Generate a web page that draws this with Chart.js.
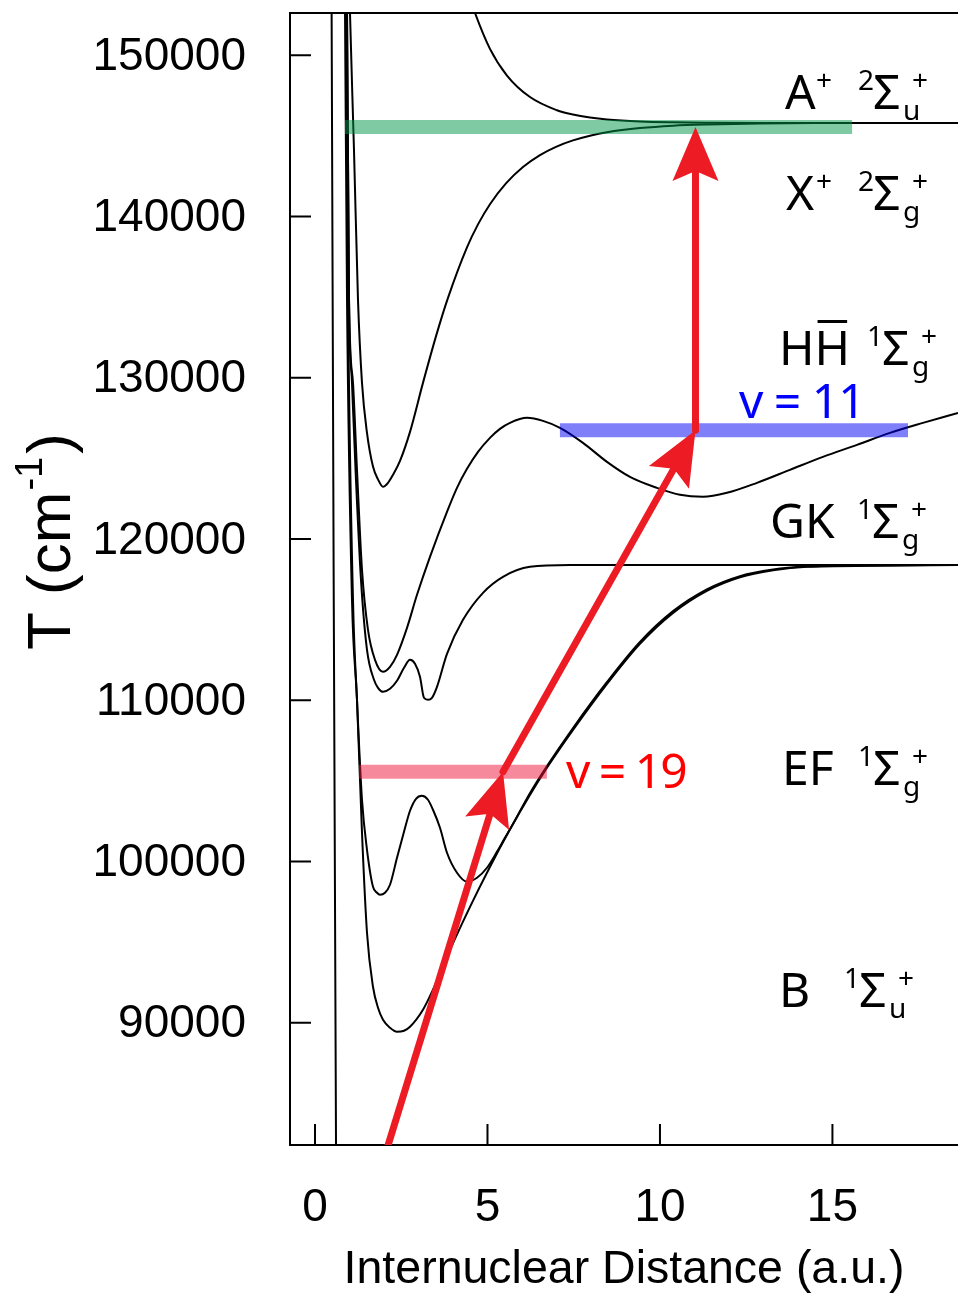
<!DOCTYPE html>
<html>
<head>
<meta charset="utf-8">
<title>H2 potential curves</title>
<script src="https://cdn.jsdelivr.net/npm/chart.js@4.4.1/dist/chart.umd.min.js"></script>
<style>
  body { margin: 0; background: #fff; }
  canvas { display: block; }
</style>
</head>
<body>
<canvas id="plots" width="958" height="1296"></canvas>
<script>
// R in a.u., T in cm-1
var groundR = [0.48, 0.54, 0.61];
var groundT = [153500, 118000, 82000];

var aPlusR = [4.35, 4.493, 4.638, 5.072, 5.565, 6.232, 7.014, 7.478, 7.971, 8.464, 9.420, 10.377, 11.362, 12.9, 18.64];
var aPlusT = [154700, 153550, 152623, 150397, 148741, 147408, 146590, 146320, 146134, 146013, 145891, 145840, 145818, 145805, 145800];

var xPlusR = [0.97, 1.014, 1.130, 1.246, 1.362, 1.507, 1.681, 1.826, 1.971, 2.116, 2.261, 2.464, 2.754, 3.130, 3.536, 3.855, 4.406, 4.725, 5.072, 5.536, 6.029, 6.522, 6.986, 7.478, 7.971, 8.464, 9.420, 10.377, 11.362, 12.9, 14.5, 18.64];
var xPlusT = [157000, 152623, 144129, 134829, 129683, 126583, 124490, 123700, 123235, 123483, 123979, 124847, 126646, 129683, 132783, 134953, 138084, 139510, 140762, 142052, 143068, 143806, 144321, 144718, 145009, 145226, 145486, 145635, 145710, 145772, 145800, 145800];

var hhR = [0.90, 0.928, 0.986, 1.101, 1.217, 1.362, 1.536, 1.739, 1.971, 2.174, 2.377, 2.667, 2.957, 3.333, 3.826, 4.116, 4.406, 4.725, 5.072, 5.362, 5.652, 6.145, 6.609, 7.101, 7.768, 8.464, 9.130, 9.913, 10.580, 11.246, 11.942, 12.812, 13.768, 14.725, 15.710, 16.667, 17.623, 18.638];
var hhT = [157000, 152623, 134829, 129683, 124289, 118089, 114369, 112509, 111765, 112075, 112819, 114493, 116539, 118895, 121685, 123173, 124351, 125405, 126273, 126831, 127203, 127513, 127327, 126893, 125963, 124785, 123855, 123173, 122739, 122615, 122863, 123483, 124289, 125095, 125839, 126583, 127203, 127823];

var gkR = [0.89, 0.928, 0.986, 1.072, 1.188, 1.333, 1.507, 1.710, 1.826, 1.971, 2.174, 2.377, 2.580, 2.754, 2.899, 3.043, 3.159, 3.275, 3.391, 3.536, 3.826, 4.290, 4.870, 5.449, 6.232, 7.391, 9.0, 18.638];
var gkT = [157000, 152623, 134829, 129683, 123669, 117469, 113129, 111269, 110773, 110525, 110711, 111207, 112013, 112509, 112261, 111455, 110153, 110029, 110153, 110835, 112881, 114989, 116663, 117655, 118275, 118390, 118390, 118390];

var efR = [0.87, 0.899, 0.957, 1.101, 1.217, 1.362, 1.507, 1.681, 1.797, 1.884, 2.029, 2.174, 2.377, 2.580, 2.754, 2.928, 3.101, 3.275, 3.420, 3.623, 3.826, 4.116, 4.406, 4.696, 4.986, 5.275, 5.507, 5.710, 6.23, 6.72, 7.48, 8.46, 9.42, 10.38, 11.36, 12.32, 13.28, 14.26, 16.17, 18.64];
var efT = [157000, 152623, 134829, 116229, 110029, 103829, 100729, 98435, 98063, 97939, 98063, 98559, 100233, 101845, 103147, 103891, 104077, 103829, 103209, 102093, 100543, 99303, 98745, 98993, 99613, 100605, 101473, 102217, 104230, 105900, 108280, 111120, 113620, 115530, 116880, 117700, 118110, 118290, 118360, 118390];

var bR = [0.85, 0.870, 0.928, 1.072, 1.217, 1.362, 1.507, 1.681, 1.826, 1.971, 2.174, 2.377, 2.580, 2.754, 3.130, 3.420, 3.91, 4.49, 5.07, 5.65, 6.23, 6.72, 7.48, 8.46, 9.42, 10.38, 11.36, 12.32, 13.28, 14.26, 16.17, 18.64];
var bT = [157000, 152623, 134829, 116229, 110029, 101779, 95583, 92235, 90933, 90189, 89693, 89445, 89507, 89755, 90809, 92049, 94500, 97170, 99660, 101980, 104130, 105800, 108160, 111000, 113500, 115420, 116790, 117630, 118060, 118275, 118340, 118390];

// vibrational levels: green (ion), blue v = 11, pink v = 19
var levelT = [145550, 126740, 105570];
var levelFrom = [0.87, 7.10, 1.28];
var levelTo = [15.57, 17.19, 6.72];

// excitation steps
var stepR = [[2.12, 5.45], [5.45, 11.03], [11.03, 11.03]];
var stepT = [[82420, 105570], [105570, 126740], [126740, 145550]];

var xTicks = [0, 5, 10, 15];
var yTicks = [90000, 100000, 110000, 120000, 130000, 140000, 150000];

var RED = '#ED1C24';
var AXIS_FONT = '"Liberation Sans", Arial, sans-serif';
var TERM_FONT = '"Noto Sans", "Open Sans", sans-serif';

function pts(rs, ts) {
    return rs.map(function (r, i) { return {x: r, y: ts[i]}; });
}

function curve(rs, ts) {
    return {data: pts(rs, ts), borderColor: '#000', borderWidth: 2,
            cubicInterpolationMode: 'monotone', order: 3};
}

function level(i, color) {
    return {data: [{x: levelFrom[i], y: levelT[i]}, {x: levelTo[i], y: levelT[i]}],
            borderColor: color, borderWidth: 14, borderCapStyle: 'butt', order: 2};
}

function arrow(ctx, x0, y0, x1, y1) {
    var len = Math.hypot(x1 - x0, y1 - y0);
    var ux = (x1 - x0) / len, uy = (y1 - y0) / len;
    var nx = -uy, ny = ux;
    var L = 54, W = 23, notch = 10;
    var bx = x1 - ux * L, by = y1 - uy * L;
    var cx = x1 - ux * (L - notch), cy = y1 - uy * (L - notch);
    ctx.strokeStyle = RED;
    ctx.fillStyle = RED;
    ctx.lineWidth = 7;
    ctx.lineCap = 'round';
    ctx.beginPath();
    ctx.moveTo(x0, y0);
    ctx.lineTo(cx, cy);
    ctx.stroke();
    ctx.beginPath();
    ctx.moveTo(x1, y1);
    ctx.lineTo(bx + nx * W, by + ny * W);
    ctx.lineTo(cx, cy);
    ctx.lineTo(bx - nx * W, by - ny * W);
    ctx.closePath();
    ctx.fill();
}

function txt(ctx, s, x, y, size, color) {
    ctx.font = size + 'px ' + TERM_FONT;
    ctx.fillStyle = color || '#000';
    ctx.fillText(s, x, y);
}

// term symbol: name, then left superscript, Sigma, subscript and right superscript
function term(ctx, name, x, base, mult, sx, sub) {
    txt(ctx, name, x, base, 48);
    txt(ctx, mult, sx - 15, base - 19, 28);
    txt(ctx, '\u03A3', sx, base, 48);
    txt(ctx, sub, sx + 30, base + 11, 28);
    txt(ctx, '+', sx + 39, base - 19, 28);
}

var extras = {
    id: 'extras',
    beforeDatasetsDraw: function (chart) {
        var ctx = chart.ctx, a = chart.chartArea;
        var xs = chart.scales.x, ys = chart.scales.y;
        ctx.save();
        ctx.strokeStyle = '#000';
        ctx.lineWidth = 2;
        ctx.lineCap = 'butt';
        ctx.beginPath();
        ctx.moveTo(a.right, a.top);
        ctx.lineTo(a.left, a.top);
        ctx.lineTo(a.left, a.bottom);
        ctx.lineTo(a.right, a.bottom);
        yTicks.forEach(function (v) {
            var y = ys.getPixelForValue(v);
            ctx.moveTo(a.left, y);
            ctx.lineTo(a.left + 21, y);
        });
        xTicks.forEach(function (v) {
            var x = xs.getPixelForValue(v);
            ctx.moveTo(x, a.bottom);
            ctx.lineTo(x, a.bottom - 21);
        });
        ctx.stroke();
        ctx.restore();
    },
    afterDatasetsDraw: function (chart) {
        var ctx = chart.ctx, a = chart.chartArea;
        var xs = chart.scales.x, ys = chart.scales.y;
        ctx.save();
        ctx.beginPath();
        ctx.rect(a.left, a.top, a.right - a.left, a.bottom - a.top);
        ctx.clip();
        stepR.forEach(function (r, i) {
            arrow(ctx, xs.getPixelForValue(r[0]), ys.getPixelForValue(stepT[i][0]),
                  xs.getPixelForValue(r[1]), ys.getPixelForValue(stepT[i][1]));
        });
        ctx.restore();
    },
    afterDraw: function (chart) {
        var ctx = chart.ctx;
        ctx.save();
        ctx.textAlign = 'left';
        ctx.textBaseline = 'alphabetic';

        term(ctx, 'A', 785, 109, '2', 873, 'u');
        txt(ctx, '+', 816, 90, 28);
        term(ctx, 'X', 786, 210, '2', 873, 'g');
        txt(ctx, '+', 816, 191, 28);

        term(ctx, 'HH', 779, 365, '1', 882, 'g');
        ctx.font = '48px ' + TERM_FONT;
        var h = ctx.measureText('H').width;
        ctx.fillRect(779 + h + 3, 320, h - 6, 3);

        term(ctx, 'GK', 770, 538, '1', 872, 'g');
        term(ctx, 'EF', 782, 785, '1', 873, 'g');
        term(ctx, 'B', 779, 1007, '1', 859, 'u');

        ctx.letterSpacing = '-1px';
        txt(ctx, 'v = 11', 739, 418, 48, '#0000FF');
        ctx.letterSpacing = '-2px';
        txt(ctx, 'v = 19', 566, 788, 48, '#FF0000');
        ctx.letterSpacing = '0px';

        // y axis title with superscript
        ctx.translate(70, 650);
        ctx.rotate(-Math.PI / 2);
        ctx.fillStyle = '#000';
        ctx.font = '62px ' + AXIS_FONT;
        ctx.fillText('T (cm', 0, 0);
        var w = ctx.measureText('T (cm').width;
        ctx.font = '38px ' + AXIS_FONT;
        ctx.fillText('-1', w + 1, -28);
        var w2 = ctx.measureText('-1').width;
        ctx.font = '62px ' + AXIS_FONT;
        ctx.fillText(')', w + w2 + 4, 0);
        ctx.restore();
    }
};

var plots = document.getElementById('plots');

new Chart(plots, {
    type: 'line',
    data: {
        datasets: [
            {data: pts(groundR, groundT), borderColor: '#000', borderWidth: 2, order: 3},
            curve(aPlusR, aPlusT),
            curve(xPlusR, xPlusT),
            curve(hhR, hhT),
            curve(gkR, gkT),
            curve(efR, efT),
            curve(bR, bT),
            level(0, 'rgba(0, 150, 70, 0.5)'),
            level(1, 'rgba(0, 0, 245, 0.5)'),
            level(2, 'rgba(240, 20, 60, 0.5)')
        ]
    },
    options: {
        responsive: false,
        animation: false,
        devicePixelRatio: 1,
        events: [],
        layout: {padding: {top: 13, right: 0, bottom: 0, left: 0}},
        elements: {point: {radius: 0}, line: {fill: false}},
        plugins: {legend: {display: false}, tooltip: {enabled: false}},
        scales: {
            x: {
                type: 'linear',
                min: -0.725,
                max: 18.64,
                afterBuildTicks: function (s) { s.ticks = xTicks.map(function (v) { return {value: v}; }); },
                afterFit: function (s) { s.height = 151; s.paddingLeft = 0; s.paddingRight = 0; },
                grid: {display: false, drawTicks: false},
                border: {display: false},
                ticks: {padding: 36, color: '#000', font: {family: AXIS_FONT, size: 46}, maxRotation: 0},
                title: {display: true, text: 'Internuclear Distance (a.u.)', color: '#000',
                        font: {family: AXIS_FONT, size: 46.5, lineHeight: 1}, padding: {top: 0, bottom: 3}}
            },
            y: {
                type: 'linear',
                min: 82420,
                max: 152620,
                afterBuildTicks: function (s) { s.ticks = yTicks.map(function (v) { return {value: v}; }); },
                afterFit: function (s) { s.width = 290; s.paddingTop = 0; s.paddingBottom = 0; },
                grid: {display: false, drawTicks: false},
                border: {display: false},
                ticks: {padding: 44, labelOffset: 2, color: '#000', font: {family: AXIS_FONT, size: 46},
                        callback: function (v) { return String(v); }}
            }
        }
    },
    plugins: [extras]
});
</script>
</body>
</html>
